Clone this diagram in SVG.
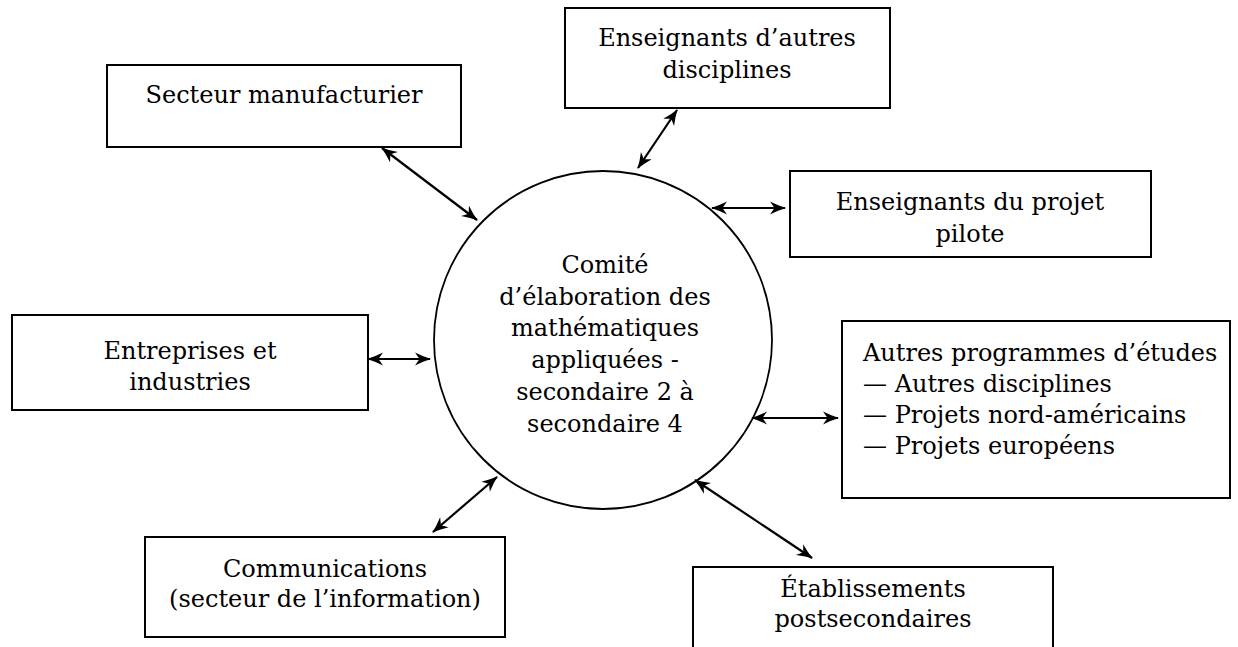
<svg xmlns="http://www.w3.org/2000/svg" width="1238" height="647" viewBox="0 0 1238 647">
<style>
.box{fill:#fff;stroke:#000;stroke-width:2}
.circ{fill:#fff;stroke:#000;stroke-width:1.8}
.t{font-family:"DejaVu Serif","Liberation Serif",serif;font-size:24px;fill:#000}
.c{text-anchor:middle}
.conn line{stroke:#000;stroke-width:2.2;marker-start:url(#ah);marker-end:url(#ah)}
</style>
<defs>
<marker id="ah" markerUnits="userSpaceOnUse" markerWidth="20" markerHeight="14" refX="15" refY="6.5" orient="auto-start-reverse" overflow="visible">
<path d="M0,0 Q9,4.5 16,6.5 Q9,8.5 0,13 L4.5,6.5 Z" fill="#000"/>
</marker>
</defs>
<rect width="1238" height="647" fill="#fff"/>
<g id="comite">
<circle class="circ" cx="603" cy="340" r="169"/>
<text class="t c" x="605" y="273">Comité</text>
<text class="t c" x="605" y="305">d’élaboration des</text>
<text class="t c" x="605" y="336">mathématiques</text>
<text class="t c" x="605" y="368">appliquées -</text>
<text class="t c" x="605" y="400">secondaire 2 à</text>
<text class="t c" x="605" y="432">secondaire 4</text>
</g>
<g id="secteur">
<rect class="box" x="107" y="65" width="354" height="82"/>
<text class="t c" x="284" y="103">Secteur manufacturier</text>
</g>
<g id="autres_disc">
<rect class="box" x="565" y="8" width="325" height="100"/>
<text class="t c" x="727" y="46">Enseignants d’autres</text>
<text class="t c" x="727" y="78">disciplines</text>
</g>
<g id="projet">
<rect class="box" x="790" y="171" width="361" height="86"/>
<text class="t c" x="970" y="210">Enseignants du projet</text>
<text class="t c" x="970" y="242">pilote</text>
</g>
<g id="entreprises">
<rect class="box" x="12" y="315" width="356" height="95"/>
<text class="t c" x="190" y="359">Entreprises et</text>
<text class="t c" x="190" y="390">industries</text>
</g>
<g id="autres_prog">
<rect class="box" x="842" y="321" width="388" height="177"/>
<text class="t" x="863" y="361">Autres programmes d’études</text>
<text class="t" x="863" y="392">— Autres disciplines</text>
<text class="t" x="863" y="423">— Projets nord-américains</text>
<text class="t" x="863" y="454">— Projets européens</text>
</g>
<g id="communications">
<rect class="box" x="145" y="537" width="360" height="100"/>
<text class="t c" x="325" y="577">Communications</text>
<text class="t c" x="325" y="607">(secteur de l’information)</text>
</g>
<g id="etablissements">
<rect class="box" x="693" y="567" width="360" height="100"/>
<text class="t c" x="873" y="597">Établissements</text>
<text class="t c" x="873" y="627">postsecondaires</text>
</g>
<g id="connectors" class="conn">
<line x1="382" y1="148" x2="477" y2="220"/>
<line x1="677" y1="110" x2="638" y2="168"/>
<line x1="712" y1="208" x2="785" y2="208"/>
<line x1="368" y1="359" x2="430" y2="359"/>
<line x1="752" y1="418" x2="838" y2="418"/>
<line x1="433" y1="532" x2="497" y2="477"/>
<line x1="695" y1="480" x2="812" y2="558"/>
</g>
</svg>
